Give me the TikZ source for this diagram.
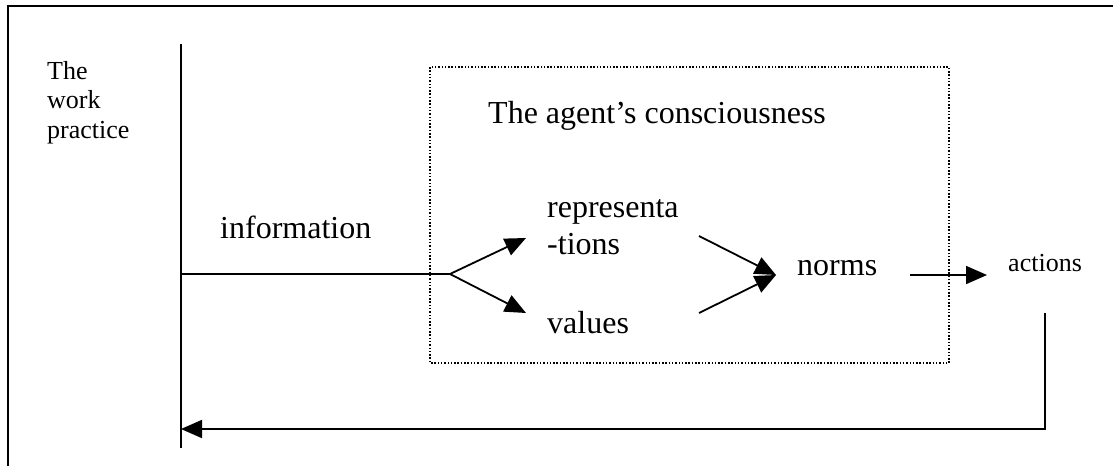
\documentclass[tikz,border=0pt]{standalone}
\usepackage{fontspec}
\setmainfont{Liberation Serif}
\usetikzlibrary{arrows.meta}
\begin{document}
\begin{tikzpicture}[x=1pt,y=-1pt,
  line/.style={line width=1.8pt},
  flow/.style={line width=1.8pt,-{Triangle[length=21pt,width=18pt]}},
  frame/.style={line width=2.2pt},
  boxline/.style={line width=1.5pt,dash pattern=on 1.5pt off 1.8pt},
  big/.style={font=\fontsize{32}{36.5}\selectfont,inner sep=0pt,anchor=base west,align=left},
  small/.style={font=\fontsize{26}{29.5}\selectfont,inner sep=0pt,anchor=base west,align=left}]
  \useasboundingbox (0,0) rectangle (1113,466);

  % outer frame (left and top edges)
  \draw[frame] (8,466) -- (8,6) -- (1113,6);

  % labels (multi-line nodes sit on the baseline of their last line)
  \node[small] (wp)    at (47,138)  {The\\work\\practice};
  \node[big]   (cons)  at (488,123) {The agent’s consciousness};
  \node[big]   (info)  at (220,238) {information};
  \node[big]   (rep)   at (547,254) {representa\\-tions};
  \node[big]   (val)   at (547,333) {values};
  \node[big]   (norms) at (797,275) {norms};
  \node[small] (act)   at (1008,271) {actions};

  % the agent's consciousness (dotted box)
  \draw[boxline] (430,67) rectangle (949,363);

  % boundary of the work practice
  \coordinate (wtop) at (181,44);
  \coordinate (wbot) at (181,448);
  \draw[line] (wtop) -- (wbot);

  % information flow and branching
  \coordinate (in)     at (181,274);
  \coordinate (split)  at (450,274);
  \coordinate (toRep)  at (526,238);
  \coordinate (toVal)  at (526,313);
  \draw[line] (in) -- (split);
  \draw[flow] (split) -- (toRep);
  \draw[flow] (split) -- (toVal);

  % representations and values merge into norms
  \coordinate (repOut) at (699,236);
  \coordinate (valOut) at (699,313);
  \coordinate (merge)  at (776,275);
  \draw[flow] (repOut) -- (merge);
  \draw[flow] (valOut) -- (merge);

  % norms lead to actions
  \coordinate (normOut) at (910,275);
  \coordinate (actIn)   at (987,275);
  \draw[flow] (normOut) -- (actIn);

  % feedback from actions to the work practice
  \coordinate (fbTop)    at (1045,313);
  \coordinate (fbCorner) at (1045,429);
  \coordinate (fbEnd)    at (181,429);
  \draw[flow] (fbTop) -- (fbCorner) -- (fbEnd);
\end{tikzpicture}
\end{document}
